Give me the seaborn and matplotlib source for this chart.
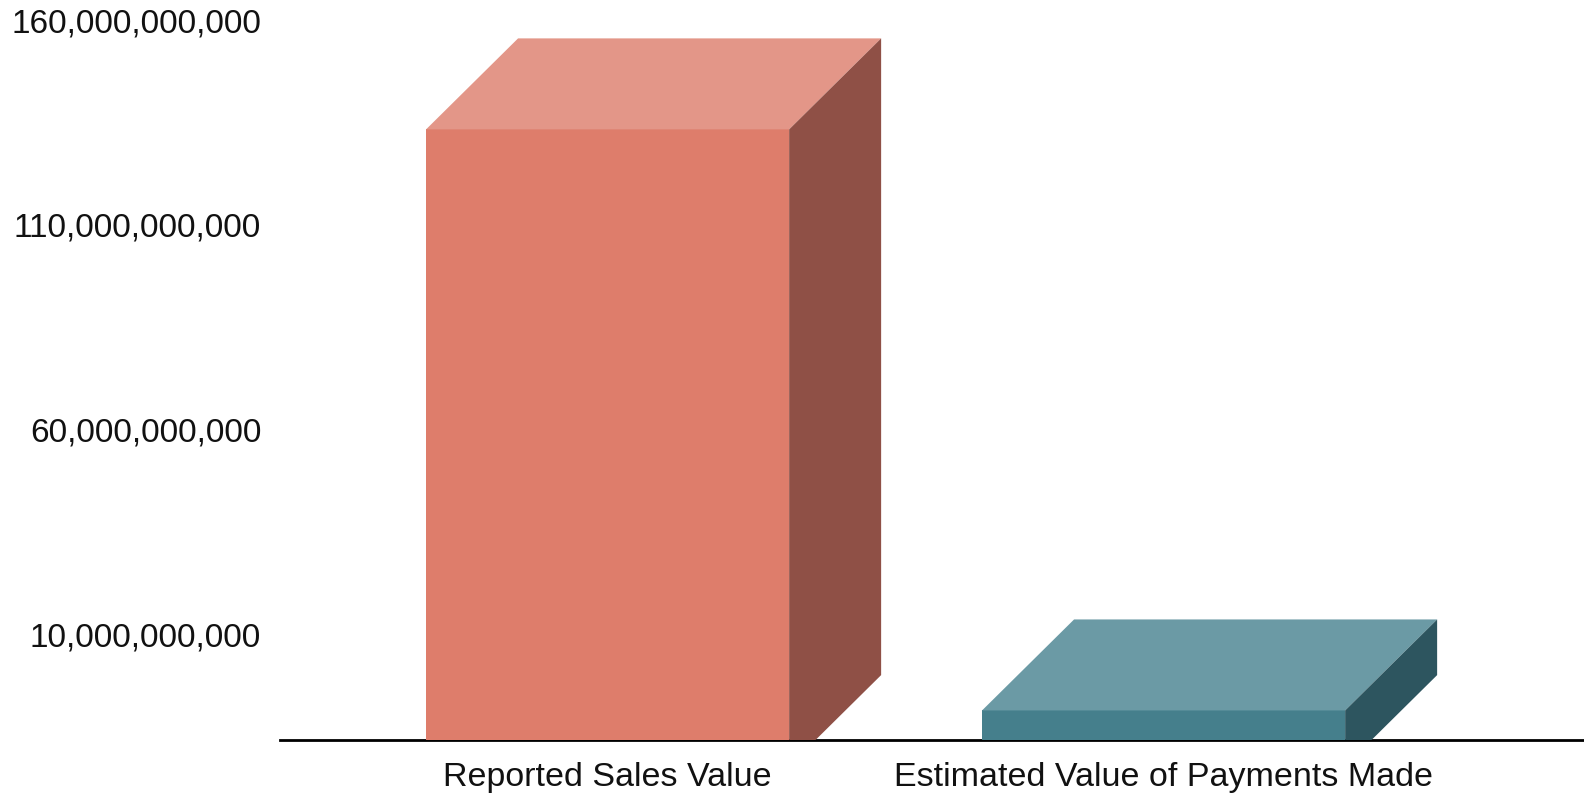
import matplotlib
matplotlib.use('Agg')
import matplotlib.pyplot as plt
from matplotlib.patches import Polygon
import seaborn as sns
import pandas as pd

# --- data ---
categories = ['Reported Sales Value', 'Estimated Value of Payments Made']
values = [155.6e9, 13.6e9]
tick_values = [10e9, 60e9, 110e9, 160e9]
axis_min = 6.5e9

front_colors = ['#DE7D6B', '#457F8C']
top_colors = ['#E39688', '#6B9AA5']
side_colors = ['#8F5046', '#2D555F']

df = pd.DataFrame({'category': categories, 'value': values})

sns.set_style('white')
plt.rcParams['font.family'] = ['Liberation Sans', 'DejaVu Sans']

# figure geometry in pixels
W, H = 1584, 795
ax_left, ax_base = 280, 739.5
px_per_cat = 556
px_per_val = 4.092e-9
first_center = 607.6
depth_px = (92, 91)

fig = plt.figure(figsize=(W / 100, H / 100), dpi=100)
ax = fig.add_axes([ax_left / W, (H - ax_base) / H, 1 - ax_left / W, ax_base / H])

sns.barplot(data=df, x='category', y='value', hue='category',
            palette=front_colors, width=0.653, linewidth=0,
            saturation=1, legend=False, ax=ax)

x_lo = -(first_center - ax_left) / px_per_cat
ax.set_xlim(x_lo, x_lo + (W - ax_left) / px_per_cat)
ax.set_ylim(axis_min, axis_min + ax_base / px_per_val)

# 3D depth in data units
dx = depth_px[0] / px_per_cat
dy = depth_px[1] / px_per_val

for p, tc, sc in zip(ax.patches, top_colors, side_colors):
    x0 = p.get_x()
    x1 = x0 + p.get_width()
    h = p.get_height()
    top = Polygon([(x0, h), (x1, h), (x1 + dx, h + dy), (x0 + dx, h + dy)],
                  closed=True, facecolor=tc, edgecolor='none')
    side = Polygon([(x1, 0), (x1 + dx, dy), (x1 + dx, h + dy), (x1, h)],
                   closed=True, facecolor=sc, edgecolor='none')
    ax.add_patch(top)
    ax.add_patch(side)

# y labels sit on the back wall of the 3D box
ax.set_yticks([v + dy for v in tick_values])
ax.set_yticklabels([f'{v:,.0f}' for v in tick_values], fontsize=24, color='#111111')
ax.tick_params(axis='y', length=0, pad=13.5)
ax.tick_params(axis='x', length=0, pad=16.5, labelsize=24.5, labelcolor='#111111')
ax.set_xlabel('')
ax.set_ylabel('')

for s in ['left', 'top', 'right']:
    ax.spines[s].set_visible(False)
ax.spines['bottom'].set_color('black')
ax.spines['bottom'].set_linewidth(2)
ax.spines['bottom'].set_zorder(0.5)

fig.savefig('out.png', dpi=100, facecolor='white')
plt.close(fig)
